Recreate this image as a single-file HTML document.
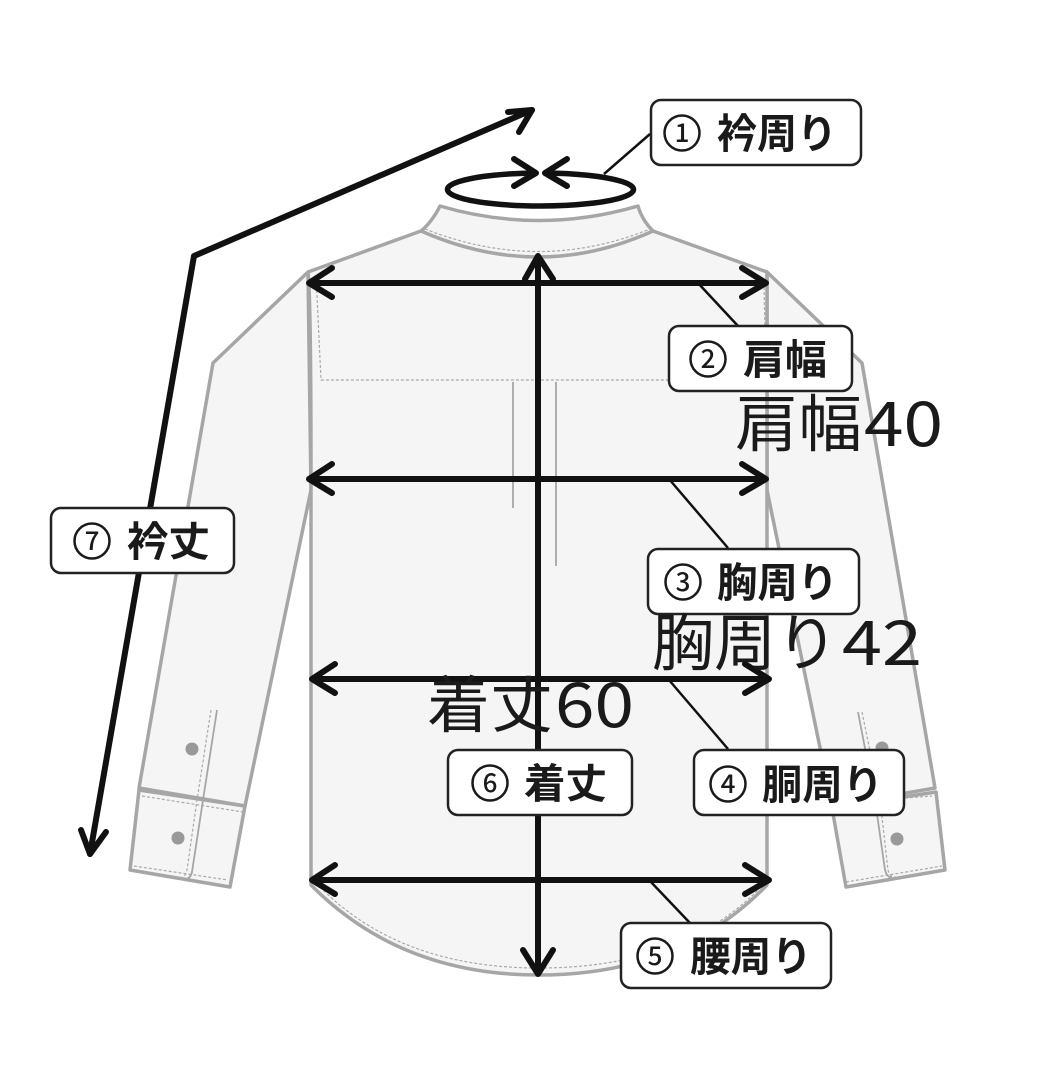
<!DOCTYPE html>
<html><head><meta charset="utf-8"><style>
html,body{margin:0;padding:0;background:#fff}
svg{display:block}
.lab{font-family:"Liberation Sans","Noto Sans CJK JP",sans-serif;font-weight:700;font-size:41px;fill:#1a1a1a}
.num{font-family:"Noto Sans CJK JP","Liberation Sans",sans-serif;font-weight:500;font-size:26px;fill:#1a1a1a;text-anchor:middle}
.big{font-family:"Noto Sans CJK JP","Liberation Sans",sans-serif;font-weight:400;font-size:62px;fill:#1a1a1a}
</style></head><body>
<svg width="1056" height="1080" viewBox="0 0 1056 1080" xmlns="http://www.w3.org/2000/svg">
<rect width="1056" height="1080" fill="#fff"/>
<g fill="#f5f5f5" stroke="#a6a6a6" stroke-width="3.5" stroke-linejoin="round">
<path d="M308 272L213 363L139 788L245 806L311 490Z"/>
<path d="M139 790L130 870L230 887L245 806Z"/>
<path d="M767 272L862 363L935 788L832 806L767 490Z"/>
<path d="M936 792L945 870L846 887L832 808Z"/>
<path d="M421 231L308 272Q311 300 311 480L311 885Q400 975 539 975Q680 975 767 885L767 480Q767 300 767 272L653 231Q540 270 421 231Z"/>
<path d="M440 206Q539 235 638 206Q642 220 653 231Q539 283 421 231Q432 222 440 206Z"/>
</g>
<g fill="none" stroke="#aaa" stroke-width="1.2" stroke-dasharray="3 2">
<path d="M316 275L321 380L766 380L764 285"/>
<path d="M320 887Q400 968 539 968Q680 968 758 890"/>
<path d="M425 229Q539 274 650 229"/>
<path d="M211 710L197 800L187 870Q185 878 180 878"/>
<path d="M142 796L243 812M134 866L228 880"/>
<path d="M862 712L880 800L888 870Q890 878 896 877"/>
<path d="M846 882L942 866M880 800L932 796"/>
</g>
<g fill="none" stroke="#a6a6a6" stroke-width="1.8">
<path d="M513 382V508M556 382V566"/>
<path d="M217 710L203 800L192 872Q190 880 184 879"/>
<path d="M858 712L875 800L885 870Q887 878 892 877"/>
</g>
<g fill="#999">
<circle cx="192" cy="749" r="6.5"/><circle cx="178" cy="838" r="6.5"/>
<circle cx="882" cy="748" r="6.5"/><circle cx="897" cy="839" r="6.5"/>
</g>
<g fill="none" stroke="#111" stroke-width="2.5">
<path d="M604 174L650 134"/>
<path d="M698 283L738 326"/>
<path d="M669 479L728 548"/>
<path d="M669 680L728 749"/>
<path d="M650 881L690 923"/>
</g>
<g fill="none" stroke="#111" stroke-width="6" stroke-linecap="round" stroke-linejoin="round">
<path d="M536 173A93 16.5 0 1 0 545 173" stroke-width="5.5"/>
<path d="M514 159L536 173L514 186M567 159L545 173L567 186"/>
<path d="M90 854L194 256L532 110"/>
<path d="M508 112L532 110L519 132"/>
<path d="M81 830L90 854L106 832"/>
<path d="M309 283H766M332 268L309 283L332 297M742 268L766 283L742 297"/>
<path d="M309 479H766M332 464L309 479L332 493M742 464L766 479L742 493"/>
<path d="M312 679H769M335 664L312 679L335 693M745 664L769 679L745 693"/>
<path d="M312 880H769M335 865L312 880L335 894M745 865L769 880L745 894"/>
<path d="M538 256V974M525 279L538 256L553 279M523 950L538 974L553 950"/>
</g>
<g fill="#fff" stroke="#222" stroke-width="2.5">
<rect x="651" y="100" width="210" height="65" rx="10"/>
<rect x="669" y="326" width="183" height="65" rx="10"/>
<rect x="648" y="549" width="211" height="65" rx="10"/>
<rect x="694" y="750" width="210" height="65" rx="10"/>
<rect x="621" y="923" width="210" height="65" rx="10"/>
<rect x="448" y="750" width="184" height="65" rx="10"/>
<rect x="51" y="508" width="183" height="65" rx="10"/>
</g>
<g fill="none" stroke="#1a1a1a" stroke-width="2.5">
<circle cx="682" cy="133" r="17.5"/>
<circle cx="708" cy="359" r="17.5"/>
<circle cx="683" cy="582" r="17.5"/>
<circle cx="728" cy="784" r="17.5"/>
<circle cx="655" cy="956" r="17.5"/>
<circle cx="490" cy="783" r="17.5"/>
<circle cx="92" cy="541" r="17.5"/>
</g>
<text class="num" x="682" y="142">1</text>
<text class="num" x="708" y="368">2</text>
<text class="num" x="683" y="591">3</text>
<text class="num" x="728" y="793">4</text>
<text class="num" x="655" y="965">5</text>
<text class="num" x="490" y="792">6</text>
<text class="num" x="92" y="550">7</text>
<text class="lab" x="717" y="148" textLength="120" lengthAdjust="spacingAndGlyphs">衿周り</text>
<text class="lab" x="743" y="374" textLength="84" lengthAdjust="spacingAndGlyphs">肩幅</text>
<text class="lab" x="717" y="597" textLength="121" lengthAdjust="spacingAndGlyphs">胸周り</text>
<text class="lab" x="762" y="799" textLength="121" lengthAdjust="spacingAndGlyphs">胴周り</text>
<text class="lab" x="690" y="971" textLength="122" lengthAdjust="spacingAndGlyphs">腰周り</text>
<text class="lab" x="524" y="798" textLength="83" lengthAdjust="spacingAndGlyphs">着丈</text>
<text class="lab" x="127" y="556" textLength="83" lengthAdjust="spacingAndGlyphs">衿丈</text>
<text class="big" x="735" y="446" textLength="127" lengthAdjust="spacingAndGlyphs">肩幅</text>
<text class="big" x="864" y="446" textLength="79" lengthAdjust="spacingAndGlyphs">40</text>
<text class="big" x="652" y="665" textLength="186" lengthAdjust="spacingAndGlyphs">胸周り</text>
<text class="big" x="842" y="665" textLength="80" lengthAdjust="spacingAndGlyphs">42</text>
<text class="big" x="427" y="727" textLength="126" lengthAdjust="spacingAndGlyphs">着丈</text>
<text class="big" x="555" y="727" textLength="79" lengthAdjust="spacingAndGlyphs">60</text>
</svg>
</body></html>
